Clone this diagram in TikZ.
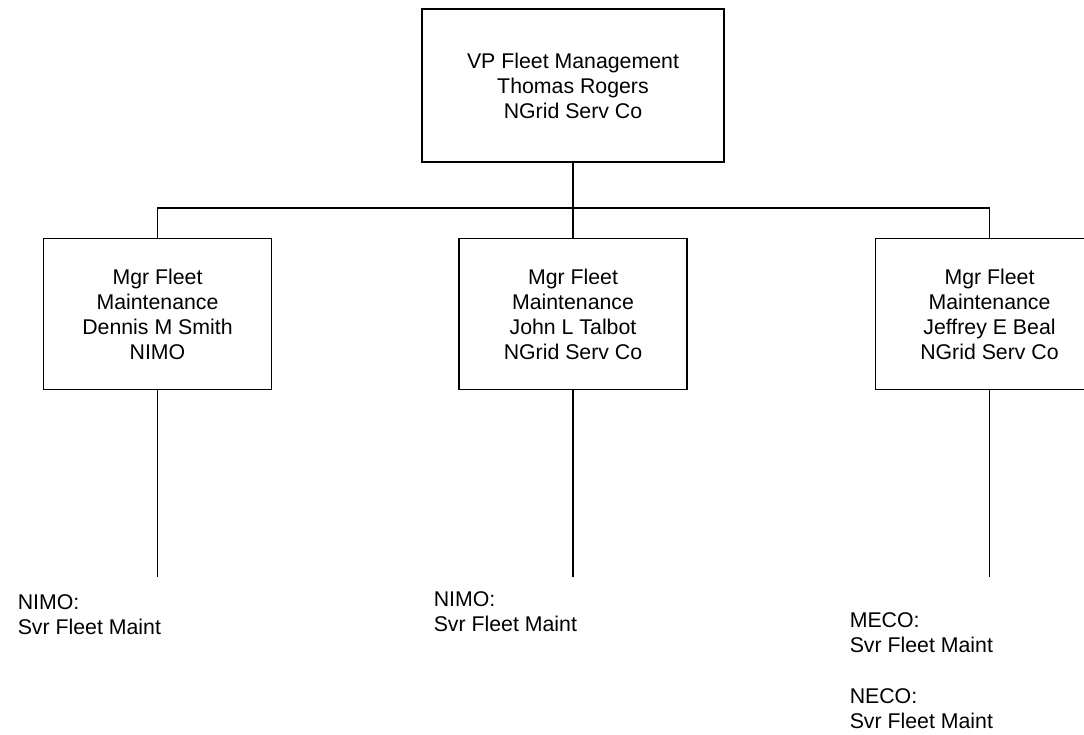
\documentclass[tikz,border=0pt]{standalone}
\usepackage{fontspec}
\setmainfont{Liberation Sans}
\usetikzlibrary{positioning}
\tikzset{
        x=1pt, y=-1pt, % pixel-like coordinates, y grows downwards
        every path/.style={line width=1.5pt}, % all lines of the chart
        post/.style={draw, line width=1.5pt, minimum width=228pt, minimum height=151pt,
                     align=center, font=\fontsize{21.3}{25}\selectfont}, % a box of the chart
        headpost/.style={post, minimum width=302pt, minimum height=153pt}, % the top box
        staff/.style={anchor=base west, inner sep=0pt, align=left,
                      font=\fontsize{21.3}{25}\selectfont}, % text under a box, placed by its last line
    }
\begin{document}
\begin{tikzpicture}
    \useasboundingbox (0,0) rectangle (1084,734);
    \node[headpost] (vp) at (573,85.5) {VP Fleet Management\\Thomas Rogers\\NGrid Serv Co};
    \node[post, below=75pt of vp] (talbot) {Mgr Fleet\\Maintenance\\John L Talbot\\NGrid Serv Co};
    \node[post, left=186pt of talbot] (smith) {Mgr Fleet\\Maintenance\\Dennis M Smith\\NIMO};
    \node[post, right=187pt of talbot] (beal) {Mgr Fleet\\Maintenance\\Jeffrey E Beal\\NGrid Serv Co};
    % ends of the lines below the boxes
    \coordinate (smithend) at (smith.south |- 0,577);
    \coordinate (talbotend) at (talbot.south |- 0,577);
    \coordinate (bealend) at (beal.south |- 0,577);
    \node[staff] (smithstaff) at (17,634) {NIMO:\\Svr Fleet Maint};
    \node[staff] (talbotstaff) at (433,631) {NIMO:\\Svr Fleet Maint};
    \node[staff] (bealstaff) at (849,728) {MECO:\\Svr Fleet Maint\\[26pt]NECO:\\Svr Fleet Maint};
    \draw (vp.south) -- (vp.south |- 0,208);
    \draw (smith.north) -- (smith.north |- 0,208) -| (beal.north);
    \draw (talbot.north) -- (talbot.north |- 0,208);
    \draw (smith.south) -- (smithend);
    \draw (talbot.south) -- (talbotend);
    \draw (beal.south) -- (bealend);
\end{tikzpicture}
\end{document}
